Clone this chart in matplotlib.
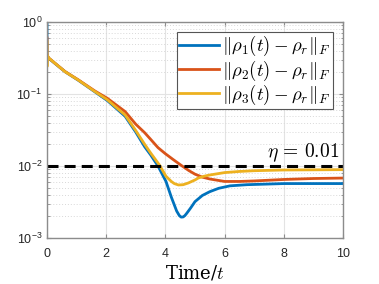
import matplotlib
matplotlib.use("Agg")
import matplotlib.pyplot as plt
from matplotlib.font_manager import FontProperties
from matplotlib.ticker import LogLocator, NullFormatter

plt.rcParams["font.family"] = ["Liberation Sans", "DejaVu Sans"]
plt.rcParams["mathtext.fontset"] = "cm"

# values
t1 = [0, 0.001, 0.07, 0.61, 1.06, 1.62, 2.04, 2.64, 3.0, 3.3, 3.5, 3.75,
      4.02, 4.2, 4.38, 4.47, 4.53, 4.6, 4.66, 4.72, 4.85, 5.0, 5.25, 5.5,
      5.8, 6.18, 6.75, 8, 10]
rho1 = [1.0, 0.34, 0.31, 0.204, 0.155, 0.107, 0.081, 0.049, 0.0295, 0.0185,
        0.0143, 0.0100, 0.0061, 0.0037, 0.00237, 0.00205, 0.00195, 0.00196,
        0.00205, 0.0022, 0.0026, 0.0032, 0.0039, 0.0044, 0.0049, 0.0053,
        0.0055, 0.0057, 0.0057]

t2 = [0, 0.001, 0.01, 0.07, 0.61, 1.06, 1.62, 2.04, 2.64, 3.0, 3.3, 3.5,
      3.75, 4.0, 4.25, 4.55, 4.8, 5.0, 5.25, 5.5, 6, 6.5, 7, 8, 9, 10]
rho2 = [0.6, 0.3, 0.34, 0.313, 0.205, 0.157, 0.11, 0.087, 0.057, 0.038,
        0.029, 0.0235, 0.018, 0.0148, 0.0124, 0.0101, 0.0086, 0.0077, 0.0070,
        0.0066, 0.0061, 0.0061, 0.0062, 0.0065, 0.0067, 0.0068]

t3 = [0, 0.001, 0.01, 0.07, 0.61, 1.06, 1.62, 2.04, 2.64, 3.0, 3.3, 3.5,
      3.8, 4.02, 4.2, 4.3, 4.44, 4.6, 4.77, 5.0, 5.11, 5.3, 5.5, 6, 6.5, 7,
      8, 10]
rho3 = [0.53, 0.24, 0.34, 0.313, 0.204, 0.156, 0.108, 0.083, 0.051, 0.031,
        0.020, 0.0152, 0.0103, 0.0072, 0.0061, 0.0057, 0.00545, 0.0055,
        0.0058, 0.0064, 0.0068, 0.0072, 0.0075, 0.0081, 0.0084, 0.0086,
        0.0088, 0.0089]

eta = 0.01
labels = [r"$\|\rho_1(t)-\rho_r\|_F$", r"$\|\rho_2(t)-\rho_r\|_F$",
          r"$\|\rho_3(t)-\rho_r\|_F$"]
colors = ["#0072BD", "#D95319", "#EDB120"]

fig = plt.figure(figsize=(3.79, 2.84), dpi=100)
ax = fig.add_axes([0.124, 0.162, 0.781, 0.7605])

for t, v, lab, c in zip([t1, t2, t3], [rho1, rho2, rho3], labels, colors):
    ax.plot(t, v, color=c, lw=2, label=lab, solid_joinstyle="round")
ax.axhline(eta, color="black", lw=2.2, dashes=(3.6, 2.0))

ax.set_yscale("log")
ax.set_xlim(0, 10)
ax.set_ylim(1e-3, 1)
ax.set_xticks([0, 2, 4, 6, 8, 10])
ax.yaxis.set_minor_locator(LogLocator(base=10, subs=range(2, 10)))
ax.yaxis.set_minor_formatter(NullFormatter())

ax.grid(True, which="major", color="#e3e3e3", lw=0.8)
ax.grid(True, which="minor", axis="y", color="#d8d8d8", lw=0.7, ls=(0, (1, 2)))
ax.set_axisbelow(True)

ax.tick_params(which="both", direction="in", top=True, right=True,
               colors="#8c8c8c", labelcolor="#262626", labelsize=9)
ax.tick_params(which="major", length=3)
ax.tick_params(which="minor", length=1.8)
ax.tick_params(axis="x", pad=7)
for s in ax.spines.values():
    s.set_color("#8c8c8c")
    s.set_linewidth(1.0)

ax.set_xlabel(r"Time/$t$", fontsize=13, family="serif",
              math_fontfamily="cm", labelpad=3)

ax.text(8.67, 0.0152, r"$\eta\,=\,0.01$", ha="center", va="center",
        fontsize=14, math_fontfamily="cm")

cm = FontProperties(size=13.5, math_fontfamily="cm")
leg = ax.legend(loc="upper right", bbox_to_anchor=(0.966, 0.954),
                borderaxespad=0, prop=cm, handlelength=2.1,
                handletextpad=0.2, labelspacing=0.0, borderpad=0.12,
                fancybox=False, framealpha=1)
leg.get_frame().set_edgecolor("#555555")
leg.get_frame().set_linewidth(0.8)

fig.savefig("out.png", dpi=100)
